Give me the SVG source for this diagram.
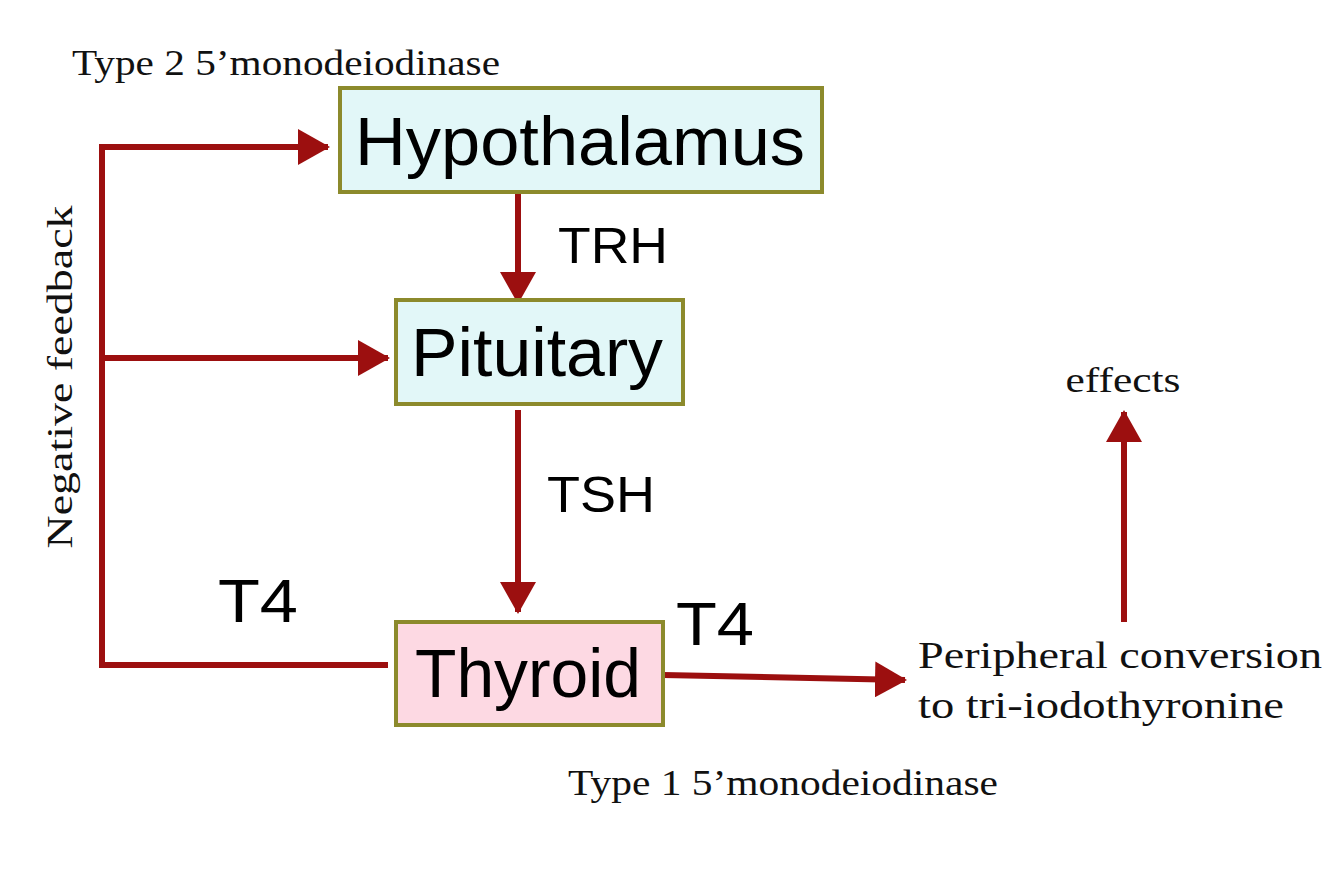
<svg xmlns="http://www.w3.org/2000/svg" width="1334" height="872" viewBox="0 0 1334 872">
<defs>
<style>
.box{stroke:#8c8a2c;stroke-width:4}
.blue{fill:#e2f7f8}
.pink{fill:#fdd9e3}
.big{font-family:"Liberation Sans",Arial,sans-serif;font-size:68px;fill:#000}
.lab{font-family:"Liberation Sans",Arial,sans-serif;fill:#000}
.ser{font-family:"Liberation Serif","Times New Roman",serif;fill:#111}
.con{stroke:#9c0f0f;stroke-width:6;fill:none}
.head{fill:#9c0f0f}
</style>
<marker id="ah" markerUnits="userSpaceOnUse" markerWidth="32" markerHeight="36" refX="30" refY="18" orient="auto" viewBox="0 0 32 36">
<path d="M0,0 L32,18 L0,36 Z" class="head"/>
</marker>
</defs>
<rect width="1334" height="872" fill="#fff"/>
<g id="connectors">
<polyline class="con" points="388,665 102,665 102,147"/>
<line class="con" x1="99" y1="147" x2="328" y2="147" marker-end="url(#ah)"/>
<line class="con" x1="102" y1="358" x2="388" y2="358" marker-end="url(#ah)"/>
<line class="con" x1="518" y1="192" x2="518" y2="302" marker-end="url(#ah)"/>
<line class="con" x1="518" y1="410" x2="518" y2="612" marker-end="url(#ah)"/>
<line class="con" x1="663" y1="675" x2="905" y2="680" marker-end="url(#ah)"/>
<line class="con" x1="1124" y1="622" x2="1124" y2="412" marker-end="url(#ah)"/>
</g>
<g id="hypothalamus">
<rect class="box blue" x="340" y="88" width="482" height="104"/>
<text class="big" x="580" y="165" text-anchor="middle" textLength="450" lengthAdjust="spacingAndGlyphs">Hypothalamus</text>
</g>
<g id="pituitary">
<rect class="box blue" x="396" y="300" width="287" height="104"/>
<text class="big" x="537" y="376" text-anchor="middle" textLength="252" lengthAdjust="spacingAndGlyphs">Pituitary</text>
</g>
<g id="thyroid">
<rect class="box pink" x="396" y="622" width="267" height="103"/>
<text class="big" x="528" y="697" text-anchor="middle" textLength="226" lengthAdjust="spacingAndGlyphs">Thyroid</text>
</g>
<g id="labels">
<text class="lab" x="558" y="263" font-size="50" textLength="110" lengthAdjust="spacingAndGlyphs">TRH</text>
<text class="lab" x="547" y="512" font-size="50" textLength="108" lengthAdjust="spacingAndGlyphs">TSH</text>
<text class="lab" x="218" y="622" font-size="62" textLength="80" lengthAdjust="spacingAndGlyphs">T4</text>
<text class="lab" x="676" y="645" font-size="62" textLength="78" lengthAdjust="spacingAndGlyphs">T4</text>
<text class="ser" x="72" y="75" font-size="35" textLength="428" lengthAdjust="spacingAndGlyphs">Type 2 5’monodeiodinase</text>
<text class="ser" x="568" y="795" font-size="35" textLength="430" lengthAdjust="spacingAndGlyphs">Type 1 5’monodeiodinase</text>
<text class="ser" x="918" y="668" font-size="38" textLength="404" lengthAdjust="spacingAndGlyphs">Peripheral conversion</text>
<text class="ser" x="918" y="718" font-size="38" textLength="366" lengthAdjust="spacingAndGlyphs">to tri-iodothyronine</text>
<text class="ser" x="1123" y="392" font-size="36" text-anchor="middle" textLength="115" lengthAdjust="spacingAndGlyphs">effects</text>
<text class="ser" transform="translate(72,377) rotate(-90)" font-size="36" text-anchor="middle" textLength="343" lengthAdjust="spacingAndGlyphs">Negative feedback</text>
</g>
</svg>
